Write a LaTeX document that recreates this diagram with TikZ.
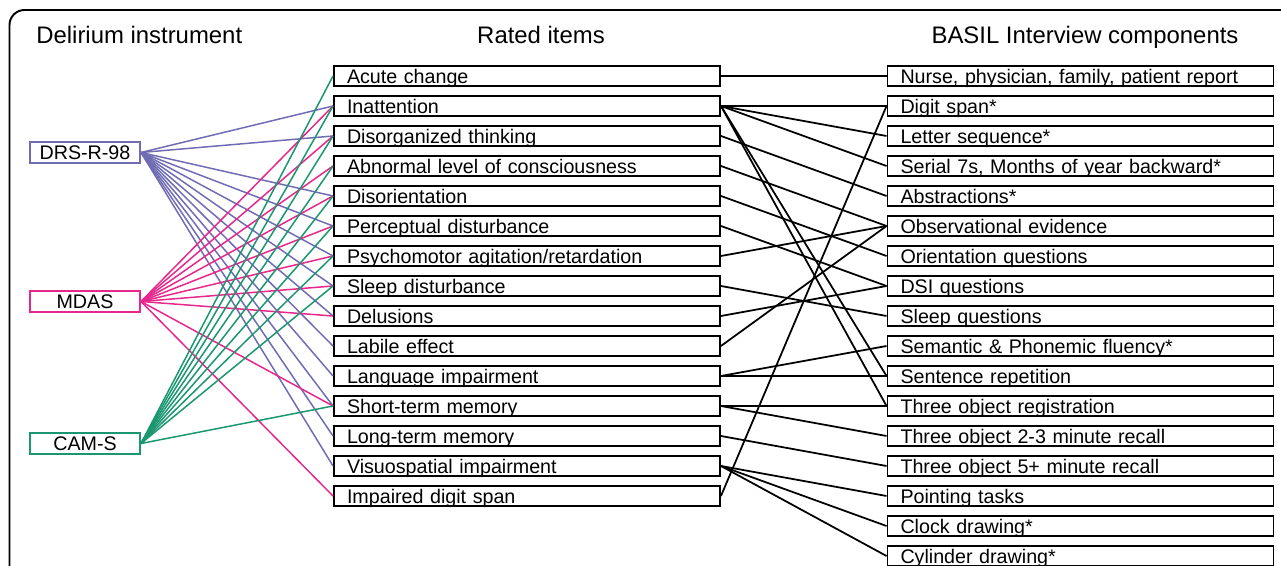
\documentclass[tikz,border=0pt]{standalone}
\usepackage{fontspec}
\setmainfont{Liberation Sans}
\definecolor{drspurple}{RGB}{112,108,180}
\definecolor{mdaspink}{RGB}{230,40,140}
\definecolor{camgreen}{RGB}{26,150,112}

\begin{document}
\begin{tikzpicture}[
        item/.style={rectangle, draw, line width=1.1pt, minimum height=0.41cm, text width=7.2cm, inner xsep=0.26cm, inner ysep=0pt, align=left, text height=8pt, text depth=0pt, font=\fontsize{11.2}{13}\selectfont},
        inst/.style={rectangle, draw, line width=1.1pt, minimum width=2.2cm, minimum height=0.41cm, inner sep=0pt, text height=8pt, text depth=0pt, font=\fontsize{11.2}{13}\selectfont},
        title/.style={anchor=base, inner sep=0pt, font=\fontsize{13.6}{16}\selectfont},
        drs/.style={drspurple, line width=0.85pt},
        mdas/.style={mdaspink, line width=0.85pt},
        cam/.style={camgreen, line width=0.85pt},
        link/.style={line width=1pt}
    ]
        \useasboundingbox (0,0) rectangle (25.62,11.32);

        % Frame
        \draw[line width=1.1pt, rounded corners=0.3cm] (25.62,11.12) -- (0.19,11.12) -- (0.19,0);

        % Titles
        \node[title, anchor=base west] (t1) at (0.72,10.45) {Delirium instrument};
        \node[title] (t2) at (10.82,10.45) {Rated items};
        \node[title] (t3) at (21.7,10.45) {BASIL Interview components};

        % Instruments
        \node[inst, draw=drspurple] (drs) at (1.7,8.27) {DRS-R-98};
        \node[inst, draw=mdaspink] (mdas) at (1.7,5.29) {MDAS};
        \node[inst, draw=camgreen] (cam) at (1.7,2.45) {CAM-S};

        % Rated items
        \foreach \txt [count=\i] in {Acute change, Inattention, Disorganized thinking,
            Abnormal level of consciousness, Disorientation, Perceptual disturbance,
            Psychomotor agitation/retardation, Sleep disturbance, Delusions, Labile effect,
            Language impairment, Short-term memory, Long-term memory,
            Visuospatial impairment, Impaired digit span} {
            \node[item] (r\i) at (10.54, {10.4-0.6*\i}) {\txt};
        }

        % BASIL components
        \foreach \txt [count=\i] in {{Nurse, physician, family, patient report}, Digit span*,
            Letter sequence*, {Serial 7s, Months of year backward*}, Abstractions*,
            Observational evidence, Orientation questions, DSI questions, Sleep questions,
            Semantic \& Phonemic fluency*, Sentence repetition, Three object registration,
            Three object 2-3 minute recall, Three object 5+ minute recall, Pointing tasks,
            Clock drawing*, Cylinder drawing*} {
            \node[item] (b\i) at (21.61, {10.4-0.6*\i}) {\txt};
        }

        % Instrument to rated item
        \foreach \j in {2,3,5,6,7,8,9,10,11,12,13,14} {
            \draw[drs] (drs.east) -- (r\j.west);
        }
        \foreach \j in {2,3,4,5,6,7,8,9,12,15} {
            \draw[mdas] (mdas.east) -- (r\j.west);
        }
        \foreach \j in {1,2,3,4,5,6,7,8,12} {
            \draw[cam] (cam.east) -- (r\j.west);
        }

        % Rated item to BASIL component
        \foreach \a/\b in {1/1, 2/2, 2/3, 2/4, 2/11, 2/12, 3/5, 4/6, 5/7, 6/8, 7/6, 8/9,
            9/8, 10/6, 11/10, 11/11, 12/12, 12/13, 13/14, 14/15, 14/16, 14/17, 15/2} {
            \draw[link] (r\a.east) -- (b\b.west);
        }
    \end{tikzpicture}
\end{document}
